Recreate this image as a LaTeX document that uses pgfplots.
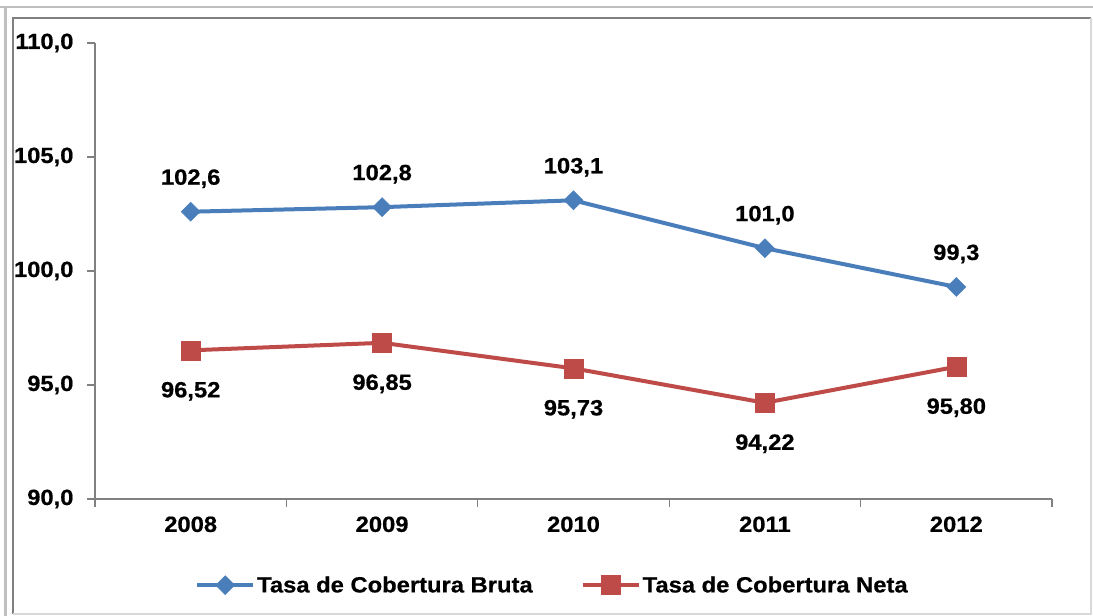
\documentclass[border=0pt]{standalone}
\usepackage{fontspec}
\setmainfont{Liberation Sans}[FakeStretch=1.08, BoldFeatures={FakeBold=0.6}]
\usepackage{pgfplots}
\pgfplotsset{compat=1.18}
\definecolor{cblue}{HTML}{4A7EBB}
\definecolor{cred}{HTML}{BE4B48}
\newcommand{\lbl}{\fontsize{22}{26}\selectfont\bfseries}
\newcommand{\lblb}{\fontsize{22}{26}\selectfont\bfseries}

\pgfplotstableread{
x y lab
0 102.6 102,6
1 102.8 102,8
2 103.1 103,1
3 101.0 101,0
4 99.3 99,3
}\bruta

\pgfplotstableread{
x y lab
0 96.52 96,52
1 96.85 96,85
2 95.73 95,73
3 94.22 94,22
4 95.80 95,80
}\neta

\begin{document}
\begin{tikzpicture}[x=1pt,y=1pt]
\path[use as bounding box] (-95,-117) rectangle (998,499);
\draw[black!25, line width=1.5pt] (-95,492) -- (998,492);
\draw[black!25, line width=3pt] (-89,-117) -- (-89,492);
\draw[black!50, line width=2.5pt] (-82,-115) -- (-82,481) -- (996,481);
\draw[black!15, line width=1.5pt] (996,481) -- (996,-115) -- (-82,-115);
\begin{axis}[
  at={(0,0)}, anchor=south west,
  scale only axis, width=957pt, height=456pt,
  xmin=-0.5, xmax=4.5, ymin=90, ymax=110,
  axis x line*=bottom, axis y line*=left,
  axis line style={draw=black!50, line width=1.2pt},
  xtick={-0.5,0.5,1.5,2.5,3.5,4.5},
  x tick label as interval,
  xticklabels={2008,2009,2010,2011,2012},
  ytick={90,95,100,105,110},
  yticklabels={{90,0},{95,0},{100,0},{105,0},{110,0}},
  tick align=outside,
  major tick length=8pt,
  tick style={draw=black!50, line width=1.2pt},
  yticklabel style={font=\lblb, xshift=-10pt, anchor=east},
  xticklabel style={font=\lblb, yshift=-6pt},
  clip=false,
  legend columns=2,
  legend style={at={(0.478,-0.189)}, anchor=center, draw=none, fill=none, font=\lblb,
    /tikz/every even column/.append style={column sep=46pt}},
  legend image code/.code={\draw[mark repeat=2,mark phase=2,#1] plot coordinates {(0pt,0pt) (28pt,0pt) (56pt,0pt)};},
]
\addplot[cblue, line width=4pt, mark=square*, mark size=6.7pt,
  mark options={solid, line width=0.5pt, rotate=45},
  nodes near coords, point meta=explicit symbolic,
  every node near coord/.append style={font=\lbl, text=black, anchor=center, yshift=33pt}]
  table[x=x, y=y, meta=lab] {\bruta};
\addlegendentry{Tasa de Cobertura Bruta}
\addplot[cred, line width=4pt, mark=square*, mark size=9.5pt,
  mark options={solid, line width=0.5pt},
  nodes near coords, point meta=explicit symbolic,
  every node near coord/.append style={font=\lbl, text=black, anchor=center, yshift=-41pt}]
  table[x=x, y=y, meta=lab] {\neta};
\addlegendentry{Tasa de Cobertura Neta}
\end{axis}
\end{tikzpicture}
\end{document}
